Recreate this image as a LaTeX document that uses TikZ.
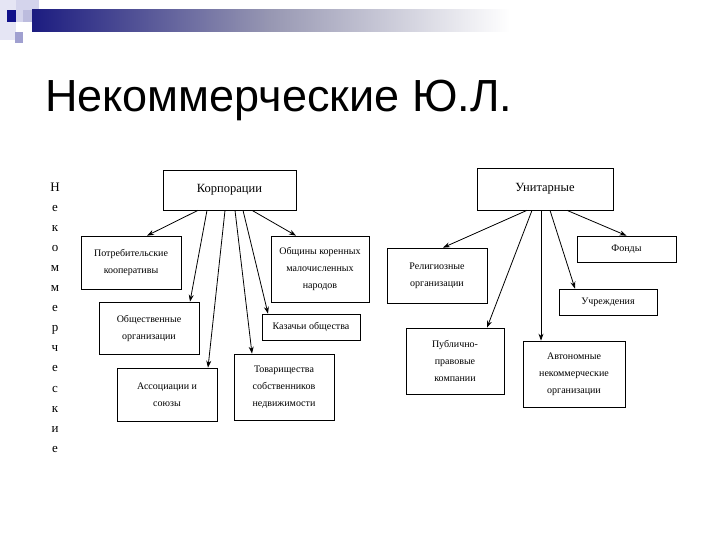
\documentclass[tikz,border=0pt]{standalone}
\usepackage{fontspec}
\setmainfont{Liberation Serif}
\newfontfamily\titlefont{Liberation Sans}
\usetikzlibrary{arrows.meta,calc}
\definecolor{barblue}{RGB}{28,28,128}
\definecolor{sqdark}{RGB}{16,16,138}
\definecolor{sqmid}{RGB}{160,160,208}
\definecolor{sqlight}{RGB}{212,212,236}
\tikzset{box/.style={draw,line width=.7pt,align=center,inner sep=2pt,
   font=\fontsize{10bp}{17bp}\selectfont},
 head/.style={box,font=\fontsize{12.5bp}{15bp}\selectfont},
 arr/.style={-{Stealth[length=7bp,width=5bp]},line width=.8pt}}
\begin{document}
\begin{tikzpicture}[x=1bp,y=-1bp]
\useasboundingbox (0,0) rectangle (720,540);
\fill[white] (0,0) rectangle (720,540);
% slide decoration
\fill[sqlight!60] (0,0) rectangle (16,40);
\fill[sqlight] (16,0) rectangle (39,22);
\fill[sqmid!70] (23,10) rectangle (39,22);
\fill[sqdark] (7,10) rectangle (16,22);
\fill[sqmid] (15,32) rectangle (23,43);
\shade[left color=barblue,right color=white,middle color=barblue!45!gray!60] (32,10) rectangle (510,32);
% title
\node[anchor=base west,inner sep=0,font=\titlefont\fontsize{45bp}{50bp}\selectfont] (title) at (45,112) {Некоммерческие Ю.Л.};
% vertical word
\node[align=center,inner sep=0,font=\fontsize{13bp}{20.1bp}\selectfont] (word) at (55,317.5)
 {Н\\е\\к\\о\\м\\м\\е\\р\\ч\\е\\с\\к\\и\\е};
% corporations
\node[head,minimum width=133bp,minimum height=40bp] (korp) at (229.5,190) {Корпорации};
\node[box,minimum width=100bp,minimum height=53bp] (potreb) at (131,262.5) {Потребительские\\кооперативы};
\node[box,minimum width=100bp,minimum height=52bp] (obshch) at (149,328) {Общественные\\организации};
\node[box,minimum width=100bp,minimum height=53bp] (assoc) at (167,394.5) {Ассоциации и\\союзы};
\node[box,minimum width=100bp,minimum height=66bp] (tovar) at (284,387) {Товарищества\\собственников\\недвижимости};
\node[box,minimum width=98bp,minimum height=26bp] (kazach) at (311,327) {Казачьи общества};
\node[box,minimum width=98bp,minimum height=66bp] (obshchiny) at (320,269) {Общины коренных\\малочисленных\\народов};
% unitary
\node[head,minimum width=136bp,minimum height=42bp] (unitar) at (545,189) {Унитарные};
\node[box,minimum width=100bp,minimum height=55bp] (relig) at (437,275.5) {Религиозные\\организации};
\node[box,minimum width=99bp,minimum height=26bp] (fondy) at (626.5,249) {Фонды};
\node[box,minimum width=98bp,minimum height=26bp] (uchrezh) at (608,302) {Учреждения};
\node[box,minimum width=98bp,minimum height=66bp] (publ) at (455,361) {Публично-\\правовые\\компании};
\node[box,minimum width=102bp,minimum height=66bp] (avtonom) at (574,374) {Автономные\\некоммерческие\\организации};
% connectors
\draw[arr] ([xshift=-31.5bp]korp.south)--([xshift=16bp]potreb.north);
\draw[arr] ([xshift=-22.5bp]korp.south)--([xshift=41bp]obshch.north);
\draw[arr] ([xshift=-4.5bp]korp.south)--([xshift=41bp]assoc.north);
\draw[arr] ([xshift=5.5bp]korp.south)--([xshift=-32bp]tovar.north);
\draw[arr] ([xshift=13.5bp]korp.south)--([xshift=-43bp]kazach.north);
\draw[arr] ([xshift=22.5bp]korp.south)--([xshift=-24bp]obshchiny.north);
\draw[arr] ([xshift=-18bp]unitar.south)--([xshift=6bp]relig.north);
\draw[arr] ([xshift=-13bp]unitar.south)--([xshift=32bp]publ.north);
\draw[arr] ([xshift=-4bp]unitar.south)--([xshift=-4bp]unitar.south |- avtonom.north);
\draw[arr] ([xshift=5bp]unitar.south)--([xshift=-33bp]uchrezh.north);
\draw[arr] ([xshift=22bp]unitar.south)--(fondy.north);
\end{tikzpicture}
\end{document}
